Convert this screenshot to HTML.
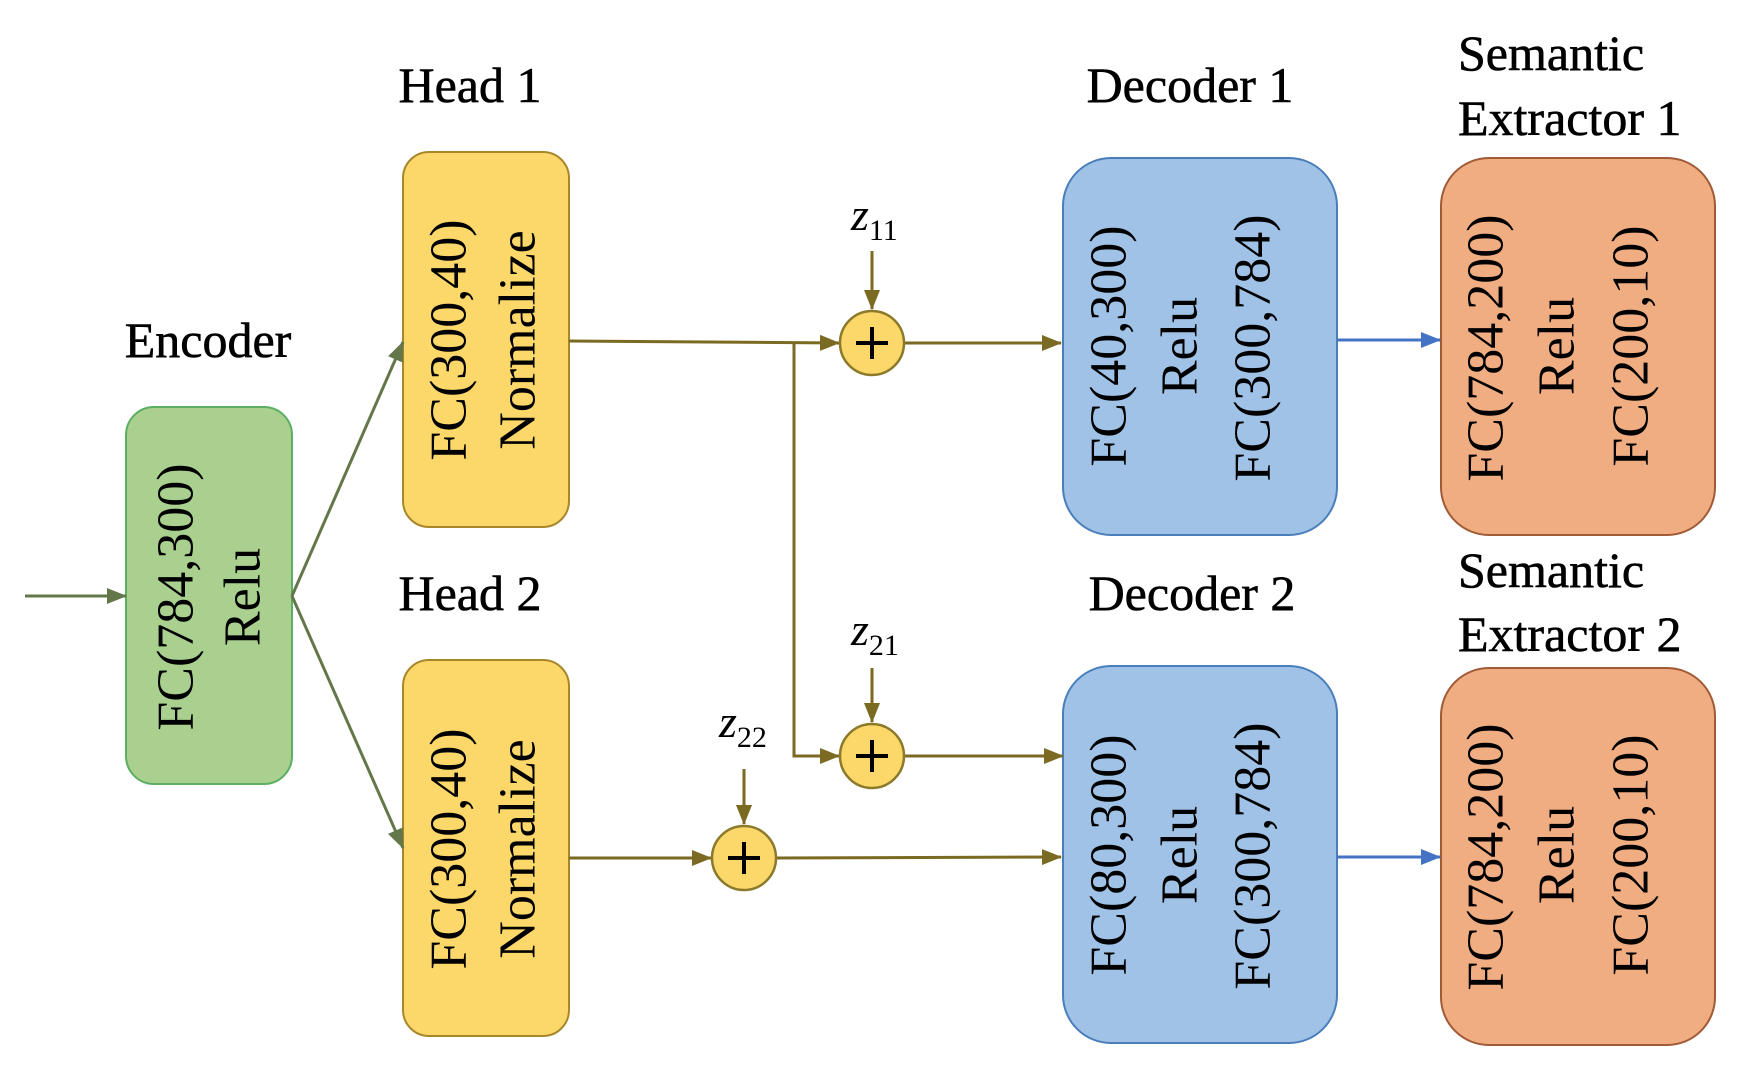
<!DOCTYPE html>
<html><head><meta charset="utf-8"><style>
html,body{margin:0;padding:0;background:#fff;}
svg{display:block;}
text{font-family:"Liberation Serif","DejaVu Serif",serif;fill:#000;}
</style></head><body>
<svg width="1752" height="1068" viewBox="0 0 1752 1068" xmlns="http://www.w3.org/2000/svg" font-family="Liberation Serif, serif">
<defs>
<marker id="ao" markerWidth="20" markerHeight="16" refX="19" refY="8" orient="auto" markerUnits="userSpaceOnUse" viewBox="0 0 20 16"><path d="M0,0 L20,8 L0,16 z" fill="#7a6a22"/></marker>
<marker id="agb" markerWidth="20" markerHeight="16" refX="19" refY="8" orient="auto" markerUnits="userSpaceOnUse" viewBox="0 0 20 16"><path d="M0,0 L20,8 L0,16 z" fill="#63774a"/></marker>
<marker id="ab" markerWidth="20" markerHeight="16" refX="19" refY="8" orient="auto" markerUnits="userSpaceOnUse" viewBox="0 0 20 16"><path d="M0,0 L20,8 L0,16 z" fill="#4472c4"/></marker>
</defs>

<rect x="126" y="407" width="166" height="377" rx="28" fill="#a9d08e" stroke="#5cae63" stroke-width="2"/>
<rect x="403" y="152" width="166" height="375" rx="26" fill="#fcd76a" stroke="#a8872a" stroke-width="2"/>
<rect x="403" y="660" width="166" height="376" rx="26" fill="#fcd76a" stroke="#a8872a" stroke-width="2"/>
<rect x="1063" y="158" width="274" height="377" rx="48" fill="#9fc2e6" stroke="#4a7ebb" stroke-width="2"/>
<rect x="1063" y="666" width="274" height="377" rx="48" fill="#9fc2e6" stroke="#4a7ebb" stroke-width="2"/>
<rect x="1441" y="158" width="274" height="377" rx="48" fill="#f0ad82" stroke="#a05a35" stroke-width="2"/>
<rect x="1441" y="668" width="274" height="377" rx="48" fill="#f0ad82" stroke="#a05a35" stroke-width="2"/>

<g fill="none" stroke-width="3">
<line x1="25" y1="596" x2="126" y2="596" stroke="#63774a" marker-end="url(#agb)"/>
<line x1="292" y1="596" x2="403" y2="342" stroke="#63774a" marker-end="url(#agb)"/>
<line x1="292" y1="596" x2="403" y2="848" stroke="#63774a" marker-end="url(#agb)"/>
<line x1="569" y1="341" x2="839" y2="343" stroke="#7a6a22" marker-end="url(#ao)"/>
<polyline points="794,342 794,756 839,756" stroke="#7a6a22" marker-end="url(#ao)"/>
<line x1="905" y1="343" x2="1061" y2="343" stroke="#7a6a22" marker-end="url(#ao)"/>
<line x1="905" y1="756" x2="1063" y2="756" stroke="#7a6a22" marker-end="url(#ao)"/>
<line x1="569" y1="858" x2="711" y2="858" stroke="#7a6a22" marker-end="url(#ao)"/>
<line x1="777" y1="858" x2="1061" y2="857" stroke="#7a6a22" marker-end="url(#ao)"/>
<line x1="872" y1="251" x2="872" y2="309" stroke="#7a6a22" marker-end="url(#ao)"/>
<line x1="872" y1="668" x2="872" y2="722" stroke="#7a6a22" marker-end="url(#ao)"/>
<line x1="744" y1="769" x2="744" y2="824" stroke="#7a6a22" marker-end="url(#ao)"/>
<line x1="1337" y1="340" x2="1440" y2="340" stroke="#4472c4" marker-end="url(#ab)"/>
<line x1="1337" y1="857" x2="1440" y2="857" stroke="#4472c4" marker-end="url(#ab)"/>
</g>

<g stroke="#8a7a2a" stroke-width="2.5" fill="#fcd76a">
<circle cx="872" cy="343" r="32"/>
<circle cx="872" cy="756" r="32"/>
<circle cx="744" cy="858" r="32"/>
</g>
<g stroke="#000" stroke-width="4">
<line x1="856" y1="343" x2="888" y2="343"/><line x1="872" y1="327" x2="872" y2="359"/>
<line x1="856" y1="756" x2="888" y2="756"/><line x1="872" y1="740" x2="872" y2="772"/>
<line x1="728" y1="858" x2="760" y2="858"/><line x1="744" y1="842" x2="744" y2="874"/>
</g>

<text x="851" y="230" font-size="46" font-style="italic">z<tspan font-size="30" font-style="normal" dy="10">11</tspan></text>
<text x="851" y="645" font-size="46" font-style="italic">z<tspan font-size="30" font-style="normal" dy="10">21</tspan></text>
<text x="719" y="737" font-size="46" font-style="italic">z<tspan font-size="30" font-style="normal" dy="10">22</tspan></text>

<g font-size="50" stroke="#000" stroke-width="0.6">
<text x="208" y="357" text-anchor="middle">Encoder</text>
<text x="470" y="102" text-anchor="middle">Head 1</text>
<text x="470" y="610" text-anchor="middle">Head 2</text>
<text x="1190" y="102" text-anchor="middle">Decoder 1</text>
<text x="1192" y="610" text-anchor="middle">Decoder 2</text>
<text x="1458" y="70">Semantic</text>
<text x="1458" y="135">Extractor 1</text>
<text x="1458" y="587">Semantic</text>
<text x="1458" y="651">Extractor 2</text>
</g>

<g font-size="52" text-anchor="middle" dominant-baseline="central" font-family="Liberation Serif, serif">
<text transform="translate(176,597) rotate(-90)">FC(784,300)</text>
<text transform="translate(243,597) rotate(-90)">Relu</text>
<text transform="translate(449,340) rotate(-90)">FC(300,40)</text>
<text transform="translate(518,340) rotate(-90)">Normalize</text>
<text transform="translate(449,849) rotate(-90)">FC(300,40)</text>
<text transform="translate(518,849) rotate(-90)">Normalize</text>
<text transform="translate(1109,346) rotate(-90)">FC(40,300)</text>
<text transform="translate(1180,346) rotate(-90)">Relu</text>
<text transform="translate(1253,348) rotate(-90)">FC(300,784)</text>
<text transform="translate(1109,855) rotate(-90)">FC(80,300)</text>
<text transform="translate(1180,855) rotate(-90)">Relu</text>
<text transform="translate(1253,856) rotate(-90)">FC(300,784)</text>
<text transform="translate(1486,348) rotate(-90)">FC(784,200)</text>
<text transform="translate(1557,346) rotate(-90)">Relu</text>
<text transform="translate(1631,346) rotate(-90)">FC(200,10)</text>
<text transform="translate(1486,857) rotate(-90)">FC(784,200)</text>
<text transform="translate(1557,855) rotate(-90)">Relu</text>
<text transform="translate(1631,855) rotate(-90)">FC(200,10)</text>
</g>
</svg>
</body></html>
